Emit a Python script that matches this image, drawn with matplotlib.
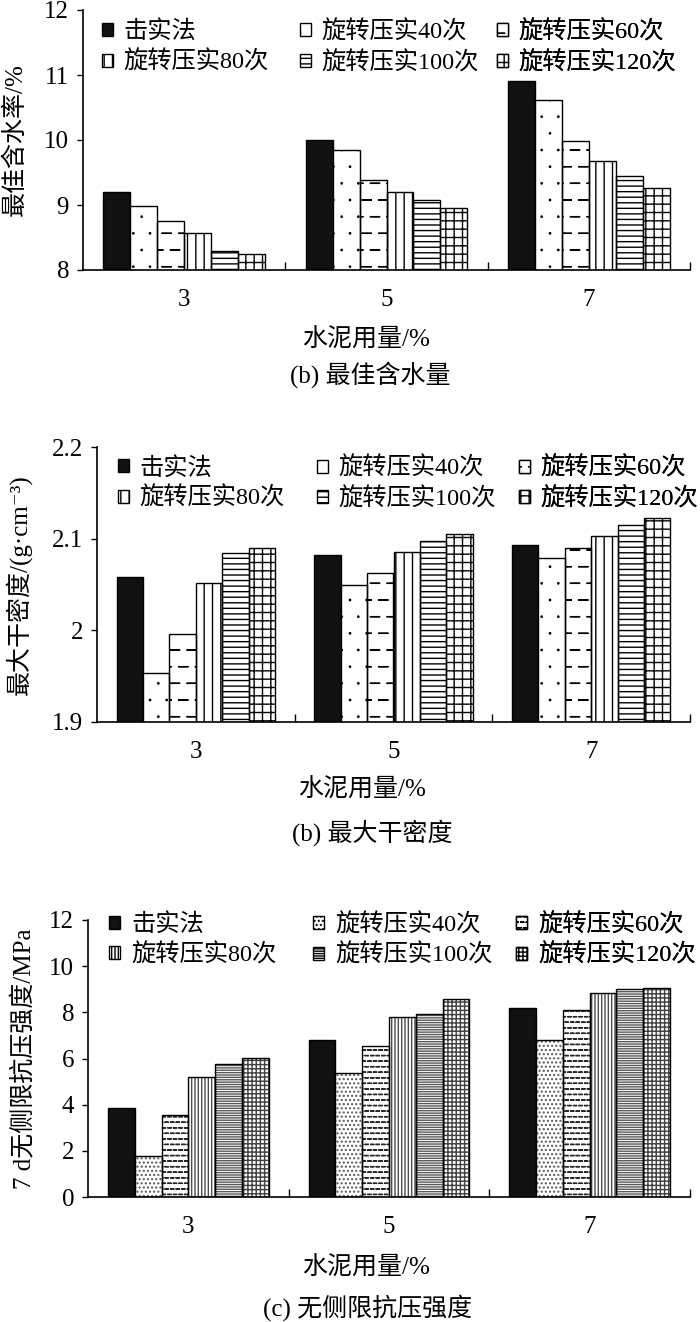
import warnings
import numpy as np
import matplotlib
matplotlib.use('Agg')
import matplotlib.pyplot as plt
import matplotlib.hatch as mhatch
from matplotlib.path import Path
from matplotlib.patches import Patch
from matplotlib.ticker import FuncFormatter, MultipleLocator

warnings.filterwarnings('ignore')

# ---- data ----
cement = ['3', '5', '7']
methods = ['击实法', '旋转压实40次', '旋转压实60次',
           '旋转压实80次', '旋转压实100次', '旋转压实120次']

# (b) optimum water content, %
water_proctor = [9.20, 10.00, 10.91]
water_g40 = [8.98, 9.84, 10.61]
water_g60 = [8.76, 9.39, 9.98]
water_g80 = [8.57, 9.20, 9.67]
water_g100 = [8.29, 9.08, 9.44]
water_g120 = [8.24, 8.96, 9.26]

# (b) max dry density, g/cm3
dens_proctor = [2.058, 2.082, 2.093]
dens_g40 = [1.954, 2.050, 2.079]
dens_g60 = [1.996, 2.063, 2.090]
dens_g80 = [2.052, 2.086, 2.103]
dens_g100 = [2.084, 2.097, 2.115]
dens_g120 = [2.090, 2.105, 2.123]

# (c) 7 d unconfined compressive strength, MPa
ucs_proctor = [3.87, 6.80, 8.20]
ucs_g40 = [1.78, 5.38, 6.80]
ucs_g60 = [3.57, 6.56, 8.10]
ucs_g80 = [5.20, 7.78, 8.84]
ucs_g100 = [5.75, 7.93, 9.00]
ucs_g120 = [6.03, 8.58, 9.07]


# extra hatches: short dashes ('_') and tiny dots (':'), staggered like '.'
class DashHatch(mhatch.Shapes):
    filled = False
    size = 1.0

    def __init__(self, hatch, density):
        self.num_rows = hatch.count('_') * density
        self.shape_vertices = np.array([[-0.28, 0.0], [0.28, 0.0]])
        self.shape_codes = np.array([Path.MOVETO, Path.LINETO], dtype=Path.code_type)
        super().__init__(hatch, density)


class TinyDots(mhatch.Circles):
    size = 0.04
    filled = True

    def __init__(self, hatch, density):
        self.num_rows = hatch.count(':') * density
        super().__init__(hatch, density)


mhatch._hatch_types.append(DashHatch)
mhatch._hatch_types.append(TinyDots)

plt.rcParams['font.family'] = ['Liberation Serif', 'Noto Sans CJK SC', 'DejaVu Serif']
plt.rcParams['font.size'] = 18
plt.rcParams['hatch.linewidth'] = 1.0

FS = 18
LFS = 17.5
W, H = 700, 1322
fig = plt.figure(figsize=(W / 100, H / 100), dpi=100)


def rect(left, right, top, bottom):
    return [left / W, 1 - bottom / H, (right - left) / W, (bottom - top) / H]


def panel(ax, series, hatches, hcolors, ylim, ystep, ylabel, ylab_x, leg_x, leg_y):
    x = np.arange(len(cement))
    n = len(series)
    w = 0.8 / n
    for i, vals in enumerate(series):
        pos = x - 0.4 + w * (i + 0.5)
        if hatches[i] == '':
            ax.bar(pos, vals, w, color='#111111', edgecolor='black', lw=1.0, zorder=2)
        else:
            ax.bar(pos, vals, w, color='white', edgecolor=hcolors[i], hatch=hatches[i],
                   lw=0, zorder=2)
            ax.bar(pos, vals, w, fill=False, edgecolor='black', lw=1.0, zorder=3)
    ax.set_xlim(-0.5, len(cement) - 0.5)
    ax.set_ylim(*ylim)
    ax.yaxis.set_major_locator(MultipleLocator(ystep))
    ax.yaxis.set_major_formatter(FuncFormatter(lambda v, p: '%g' % round(v, 3)))
    ax.set_xticks(x)
    ax.set_xticklabels(cement)
    ax.set_xticks(np.arange(len(cement)) + 0.5, minor=True)
    ax.tick_params(axis='x', which='major', length=0, pad=14, labelsize=FS)
    ax.tick_params(axis='x', which='minor', direction='in', length=6, width=1.0)
    ax.tick_params(axis='y', direction='out', length=4, width=1.0, pad=6, labelsize=FS)
    for s in ['top', 'right']:
        ax.spines[s].set_visible(False)
    for s in ['left', 'bottom']:
        ax.spines[s].set_linewidth(1.2)
    ax.set_ylabel(ylabel, fontsize=FS, va='center')
    ax.yaxis.set_label_coords(ylab_x, 0.5)

    # legend: three columns, each a small two-row legend at its own x
    handles = [Patch(facecolor='#111111' if h == '' else 'white', edgecolor='black',
                     hatch=h, lw=1.0) for h in hatches]
    for j in range(3):
        idx = [j, j + 3]
        leg = ax.legend([handles[k] for k in idx], [methods[k] for k in idx],
                        loc='upper left', bbox_to_anchor=(leg_x[j], leg_y),
                        frameon=False, borderaxespad=0, borderpad=0,
                        handlelength=0.45, handleheight=0.45, handletextpad=0.45,
                        labelspacing=0.3, fontsize=LFS)
        ax.add_artist(leg)


hatch_bw = ['', ':', '_', '||', '---', '++']

# panel 1
ax1 = fig.add_axes(rect(83, 690, 10, 270))
panel(ax1, [water_proctor, water_g40, water_g60, water_g80, water_g100, water_g120],
      hatch_bw, ['black'] * 6, (8, 12), 1, '最佳含水率/%', -0.112,
      [0.031, 0.357, 0.682], 0.96)
fig.text(366 / W, 1 - 340 / H, '水泥用量/%', ha='center', va='center', fontsize=FS)
fig.text(370 / W, 1 - 375 / H, '(b) 最佳含水量', ha='center', va='center', fontsize=FS)

# panel 2
ax2 = fig.add_axes(rect(97, 690, 447, 722))
panel(ax2, [dens_proctor, dens_g40, dens_g60, dens_g80, dens_g100, dens_g120],
      hatch_bw, ['black'] * 6, (1.9, 2.2), 0.1, '最大干密度/(g·cm⁻³)', -0.133,
      [0.035, 0.371, 0.711], 0.965)
fig.text(362 / W, 1 - 790 / H, '水泥用量/%', ha='center', va='center', fontsize=FS)
fig.text(372 / W, 1 - 833 / H, '(b) 最大干密度', ha='center', va='center', fontsize=FS)

# panel 3
ax3 = fig.add_axes(rect(88, 690, 920, 1197))
panel(ax3, [ucs_proctor, ucs_g40, ucs_g60, ucs_g80, ucs_g100, ucs_g120],
      ['', '....', '___', '|||||', '-------', '++++'],
      ['black', '0.35', '0.15', '0.3', '0.35', '0.25'],
      (0, 12), 2, '7 d无侧限抗压强度/MPa', -0.105,
      [0.035, 0.374, 0.711], 1.025)
fig.text(366 / W, 1 - 1268 / H, '水泥用量/%', ha='center', va='center', fontsize=FS)
fig.text(368 / W, 1 - 1308 / H, '(c) 无侧限抗压强度', ha='center', va='center', fontsize=FS)

fig.savefig('out.png', dpi=100)
